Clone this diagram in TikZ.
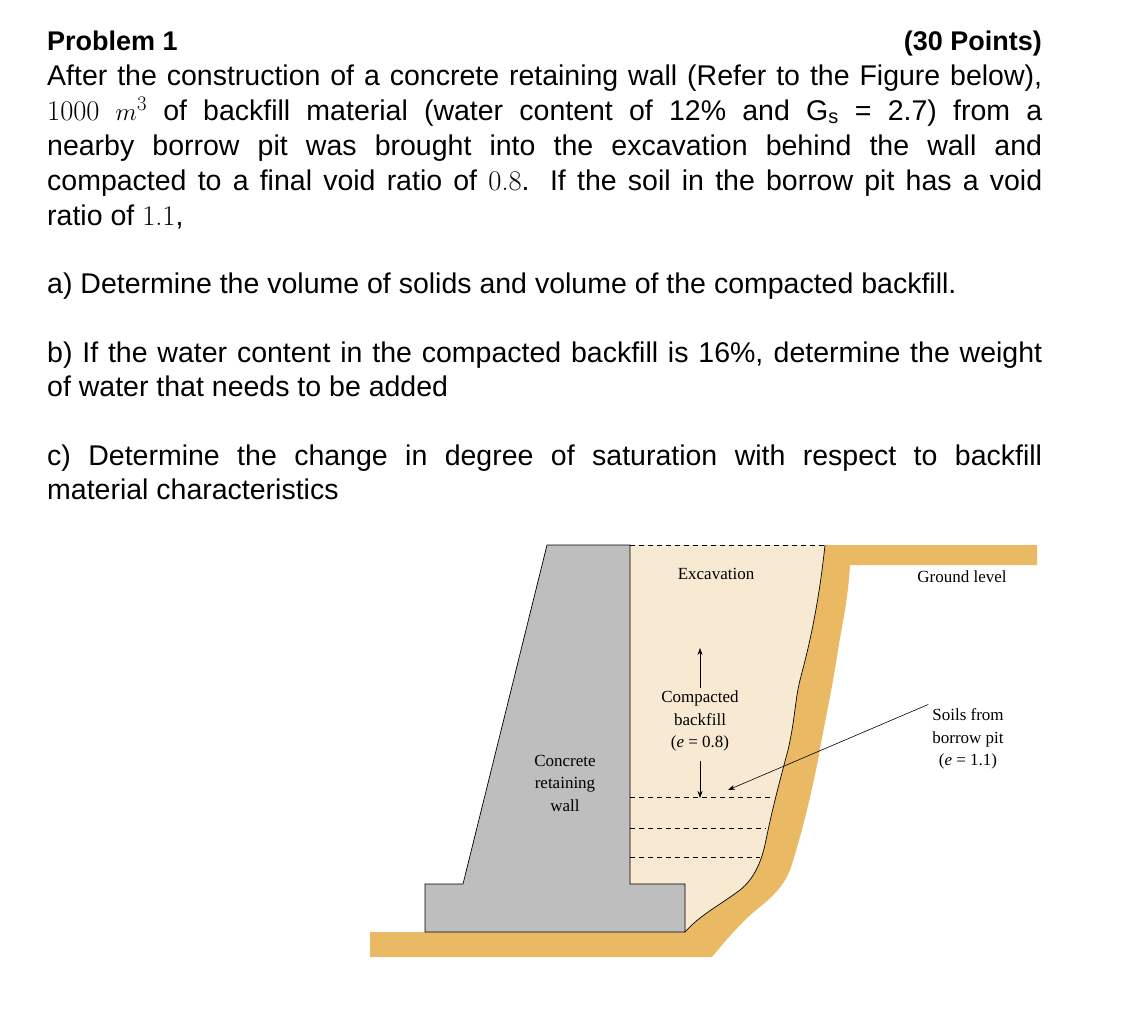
\documentclass[tikz,border=0pt]{standalone}
\usepackage{fontspec}
\setmainfont{Liberation Sans}
\newfontfamily\figfont{Liberation Serif}
\usetikzlibrary{arrows.meta}
\definecolor{wallgray}{HTML}{BEBEBE}
\definecolor{fillc}{HTML}{F8E9D2}
\definecolor{soil}{HTML}{E9B964}
\tikzset{
  tl/.style={anchor=base west,inner sep=0,font=\fontsize{28.5}{30}\selectfont},
  fl/.style={align=center,inner sep=0,font=\figfont\fontsize{17}{22.5}\selectfont},
  dl/.style={dashed,line width=0.7pt,dash pattern=on 5pt off 4pt}
}
\newcommand{\jl}[1]{\makebox[995pt][s]{#1}}
\newcommand{\nm}[1]{\textrm{\fontspec{Latin Modern Roman}#1}}
\begin{document}
\begin{tikzpicture}[x=1pt,y=-1pt]
\useasboundingbox (0,0) rectangle (1126,1028);
% text
\node[tl,font=\bfseries\fontsize{27}{30}\selectfont] (t0) at (47,50) {Problem 1};
\node[tl,anchor=base east,font=\bfseries\fontsize{27}{30}\selectfont] (t0b) at (1042,50) {(30 Points)};
\node[tl] (t1) at (47,85) {\jl{After the construction of a concrete retaining wall (Refer to the Figure below),}};
\node[tl] (t2) at (47,120) {\jl{\nm{1000} $m^3$ of backfill material (water content of 12\% and G\textsubscript{s} = 2.7) from a}};
\node[tl] (t3) at (47,155) {\jl{nearby borrow pit was brought into the excavation behind the wall and}};
\node[tl] (t4) at (47,190) {\jl{compacted to a final void ratio of \nm{0.8}. If the soil in the borrow pit has a void}};
\node[tl] (t5) at (47,225) {ratio of \nm{1.1},};
\node[tl] (ta) at (47,293) {a) Determine the volume of solids and volume of the compacted backfill.};
\node[tl] (tb) at (47,362) {\jl{b) If the water content in the compacted backfill is 16\%, determine the weight}};
\node[tl] (tb2) at (47,396) {of water that needs to be added};
\node[tl] (tc) at (47,465) {\jl{c) Determine the change in degree of saturation with respect to backfill}};
\node[tl] (tc2) at (47,499) {material characteristics};
% soil
\fill[soil] (825,545) -- (1037,545) -- (1037,565) -- (850,565)
  .. controls (848,600) and (842,625) .. (838,650)
  .. controls (832,690) and (825,720) .. (818,760)
  .. controls (810,800) and (800,840) .. (790,870)
  .. controls (780,895) and (760,905) .. (745,920)
  .. controls (730,935) and (722,945) .. (712,957)
  -- (370,957) -- (370,932) -- (685,932)
  .. controls (700,915) and (720,905) .. (740,890)
  .. controls (755,878) and (762,860) .. (766,840)
  .. controls (772,810) and (780,780) .. (788,750)
  .. controls (795,720) and (795,700) .. (800,680)
  .. controls (808,650) and (818,610) .. (825,545) -- cycle;
\fill[fillc] (630,545) -- (825,545)
  .. controls (818,610) and (808,650) .. (800,680)
  .. controls (795,700) and (795,720) .. (788,750)
  .. controls (780,780) and (772,810) .. (766,840)
  .. controls (762,860) and (755,878) .. (740,890)
  .. controls (720,905) and (700,915) .. (685,932)
  -- (685,884) -- (630,884) -- cycle;
\draw[line width=0.7pt] (825,545)
  .. controls (818,610) and (808,650) .. (800,680)
  .. controls (795,700) and (795,720) .. (788,750)
  .. controls (780,780) and (772,810) .. (766,840)
  .. controls (762,860) and (755,878) .. (740,890)
  .. controls (720,905) and (700,915) .. (685,932);
% wall
\draw[fill=wallgray,line width=0.7pt] (547,545) -- (630,545) -- (630,884) -- (685,884) -- (685,932) -- (425,932) -- (425,884) -- (463,884) -- cycle;
% dashed lines
\draw[dl] (630,545) -- (825,545);
\draw[dl] (630,797) -- (772,797);
\draw[dl] (630,828) -- (766,828);
\draw[dl] (630,857) -- (760,857);
% labels
\node[fl] (exc) at (716,574) {Excavation};
\node[fl] (gl) at (962,577) {Ground level};
\node[fl] (cb) at (700,721) {Compacted\\backfill\\(\textit{e} = 0.8)};
\node[fl] (cw) at (565,783) {Concrete\\retaining\\wall};
\node[fl] (sb) at (968,739) {Soils from\\borrow pit\\(\textit{e} = 1.1)};
\coordinate (up1) at (700,688);
\coordinate (up2) at (700,648);
\coordinate (dn1) at (700,761);
\coordinate (dn2) at (700,798);
\coordinate (pt) at (728,790);
\draw[-{Stealth[length=7pt,width=5pt]},line width=0.6pt] (up1) -- (up2);
\draw[-{Stealth[length=7pt,width=5pt]},line width=0.6pt] (dn1) -- (dn2);
\draw[-{Stealth[length=7pt,width=5pt]},line width=0.6pt] (sb.north west) ++(-4,-4) -- (pt);
\end{tikzpicture}
\end{document}
